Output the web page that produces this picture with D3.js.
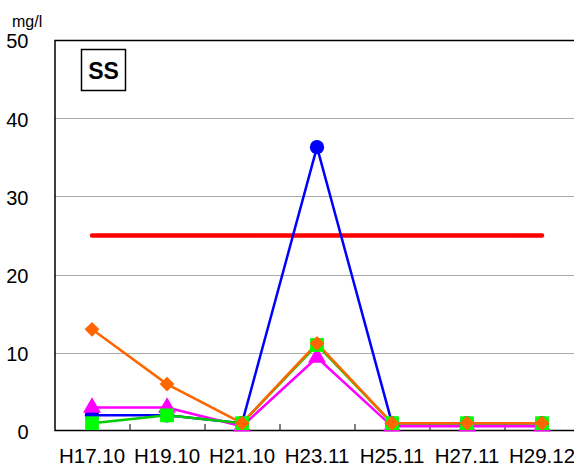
<!DOCTYPE html>
<html>
<head>
<meta charset="utf-8">
<script src="https://cdn.jsdelivr.net/npm/d3@7"></script>
<style>
  body { margin: 0; background: #fff; }
  svg { display: block; font-family: "Liberation Sans", Arial, sans-serif; }
  .grid line { stroke: #555; stroke-dasharray: 1,1; }
</style>
</head>
<body>
<div id="chart"></div>
<script>
const periods = ['H17.10', 'H19.10', 'H21.10', 'H23.11', 'H25.11', 'H27.11', 'H29.12'];
const yTicks = [0, 10, 20, 30, 40, 50];

// SS measurements, mg/l
const blueVals = [2, 2, 1, 36.3, 1, 1, 1];
const magentaVals = [3, 3, 0.6, 9.4, 0.6, 0.6, 0.6];
const greenVals = [1, 2, 1, 11, 1, 1, 1];
const orangeVals = [13, 6, 1, 11.2, 1, 1, 1];
const standardVals = [25, 25, 25, 25, 25, 25, 25];

const margin = {top: 40, right: -5.5, bottom: 38, left: 54.5},
      width = 574 - margin.left - margin.right,
      height = 468 - margin.top - margin.bottom;

const svg = d3.select('#chart').append('svg')
    .attr('width', 574)
    .attr('height', 468);

const g = svg.append('g')
    .attr('transform', `translate(${margin.left}, ${margin.top})`);

const x = d3.scaleBand()
    .domain(periods)
    .range([0, width]);

const y = d3.scaleLinear()
    .domain([0, 50])
    .range([height + 1, 0]);

const cx = d => x(d) + x.bandwidth() / 2;

// dotted gridlines
g.append('g')
    .attr('class', 'grid')
  .selectAll('line')
  .data(yTicks.filter(t => t > 0 && t < 50))
  .enter().append('line')
    .attr('x1', 0)
    .attr('x2', width)
    .attr('y1', d => Math.round(y(d)) + 0.5)
    .attr('y2', d => Math.round(y(d)) + 0.5);

// frame
g.append('rect')
    .attr('x', 0.5)
    .attr('y', 0.5)
    .attr('width', width)
    .attr('height', height)
    .attr('fill', 'none')
    .attr('stroke', '#000')
    .attr('stroke-width', 1.5);

// category separator ticks on the bottom axis
g.append('g')
  .selectAll('line')
  .data(periods.slice(1))
  .enter().append('line')
    .attr('x1', d => Math.round(x(d)) + 0.5)
    .attr('x2', d => Math.round(x(d)) + 0.5)
    .attr('y1', height)
    .attr('y2', height - 6)
    .attr('stroke', '#000');

// y labels
g.append('g')
  .selectAll('text')
  .data(yTicks)
  .enter().append('text')
    .attr('x', -26)
    .attr('y', d => y(d))
    .attr('dy', '0.42em')
    .attr('text-anchor', 'end')
    .attr('font-size', 20)
    .text(d => d);

svg.append('text')
    .attr('x', 12)
    .attr('y', 27)
    .attr('font-size', 16)
    .text('mg/l');

// x labels
g.append('g')
  .selectAll('text')
  .data(periods)
  .enter().append('text')
    .attr('x', d => cx(d))
    .attr('y', height + 33)
    .attr('text-anchor', 'middle')
    .attr('font-size', 20.5)
    .text(d => d);

// SS label box
svg.append('rect')
    .attr('x', 81.5)
    .attr('y', 49.5)
    .attr('width', 44)
    .attr('height', 41)
    .attr('fill', '#fff')
    .attr('stroke', '#000')
    .attr('stroke-width', 1.5);
svg.append('text')
    .attr('x', 103.5)
    .attr('y', 79)
    .attr('text-anchor', 'middle')
    .attr('font-size', 23)
    .attr('font-weight', 'bold')
    .text('SS');

const line = d3.line()
    .x((d, i) => cx(periods[i]))
    .y(d => y(d));

// environmental standard line
g.append('path')
    .datum(standardVals)
    .attr('d', line)
    .attr('fill', 'none')
    .attr('stroke', '#ff0000')
    .attr('stroke-width', 4.5)
    .attr('stroke-linecap', 'round');

const series = [
  {vals: blueVals, color: '#0000ff', stroke: '#0000ff', sym: d3.symbolCircle, size: 160, rot: 0},
  {vals: magentaVals, color: '#ff00ff', stroke: '#ff00ff', sym: d3.symbolTriangle, size: 140, rot: 0},
  {vals: greenVals, color: '#00ff00', stroke: '#00cc00', sym: d3.symbolSquare, size: 190, rot: 0},
  {vals: orangeVals, color: '#ff6600', stroke: '#ff6600', sym: d3.symbolSquare, size: 110, rot: 45}
];

series.forEach(s => {
  g.append('path')
      .datum(s.vals)
      .attr('d', line)
      .attr('fill', 'none')
      .attr('stroke', s.stroke)
      .attr('stroke-width', 2.5);
});

series.forEach(s => {
  g.append('g')
    .selectAll('path')
    .data(s.vals)
    .enter().append('path')
      .attr('transform', (d, i) => `translate(${cx(periods[i])},${y(d)}) rotate(${s.rot})`)
      .attr('d', d3.symbol().type(s.sym).size(s.size))
      .attr('fill', s.color);
});
</script>
</body>
</html>
